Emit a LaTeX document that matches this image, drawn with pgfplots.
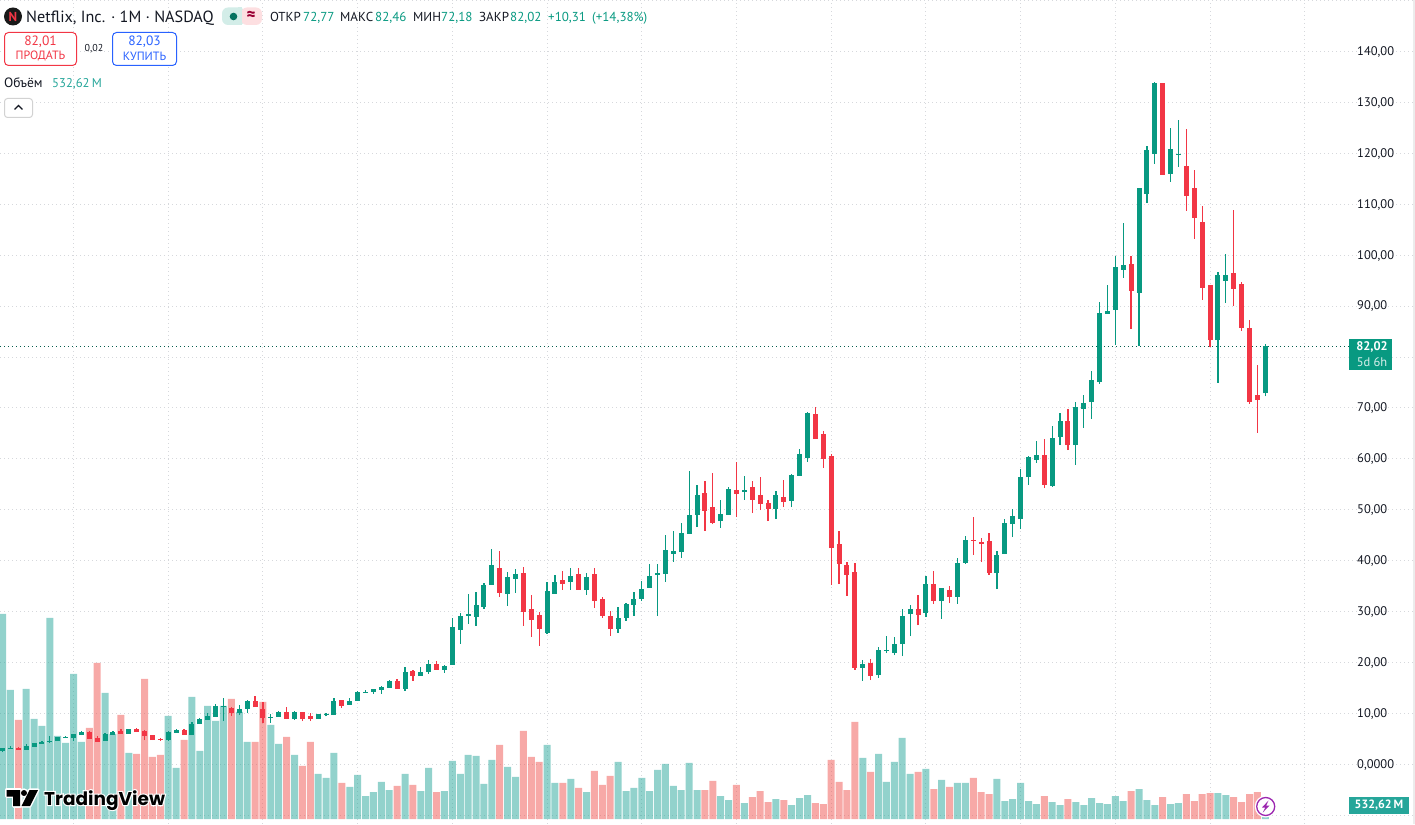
\documentclass[border=0pt]{standalone}
\usepackage{fontspec}
\usepackage{pgfplots}
\usepackage{pgfplotstable}
\pgfplotsset{compat=1.18}
\setmainfont{PT Sans}
\newfontfamily\logofont{Poppins}
\newfontfamily\logohalo{Poppins}[BoldFeatures={FakeBold=12}]
\newcommand\fs[1]{\fontsize{#1}{#1}\selectfont}

\definecolor{upc}{HTML}{089981}
\definecolor{downc}{HTML}{F23645}
\definecolor{volc}{HTML}{26A69A}
\definecolor{vold}{HTML}{EF5350}
\definecolor{txt}{HTML}{131722}
\definecolor{gridc}{HTML}{D6D8DC}
\definecolor{buyc}{HTML}{2962FF}
\definecolor{purp}{HTML}{9C27B0}

% month  open high low close volume(M)
\pgfplotstableread{
i o h l c v
0 2.62 3.14 2.35 3.14 5125
1 3.01 3.53 2.94 3.21 3225
3 2.75 3.93 2.75 3.53 3250
4 3.34 4.12 3.34 4.12 2500
5 3.93 4.52 3.93 4.32 2325
6 4.32 5.50 4.12 4.52 5025
7 4.52 5.30 4.52 5.30 2075
8 5.10 5.50 5.10 5.30 1900
9 5.10 5.89 4.52 5.89 3625
10 5.69 6.48 5.69 6.28 1925
13 4.52 6.09 4.52 5.89 3150
14 5.69 6.48 5.69 6.28 2125
16 5.89 6.87 5.89 6.87 1650
21 4.71 6.48 4.52 6.28 2575
22 6.09 6.87 6.09 6.67 1275
24 5.69 8.25 5.69 7.85 3050
25 7.85 9.03 7.85 8.83 1700
26 8.64 10.01 8.64 9.42 2825
27 9.23 11.78 9.23 11.39 2450
28 11.19 12.96 8.44 11.39 2825
30 10.01 11.58 9.62 10.80 2675
31 10.80 12.57 10.01 12.37 1925
34 9.10 9.82 8.05 9.29 2350
35 9.23 10.41 9.23 10.21 1875
37 8.83 10.41 8.64 10.21 1600
40 8.83 9.82 8.83 9.82 1125
41 9.62 10.01 9.36 9.82 1025
42 9.62 12.96 9.62 12.37 1650
44 11.59 12.96 11.59 12.37 800
45 12.37 14.34 12.37 14.14 1100
46 13.94 14.53 13.94 14.14 575
47 14.14 14.73 13.75 14.73 675
48 14.53 15.32 13.75 15.12 925
49 14.93 16.50 14.93 16.30 725
51 14.73 19.05 14.34 18.07 1125
53 17.28 19.05 17.28 18.07 700
54 18.07 20.42 17.68 19.64 1275
56 18.46 19.44 17.87 19.25 700
57 19.44 28.67 19.44 26.90 1450
58 26.32 29.65 23.57 29.06 1125
59 29.06 33.38 27.49 29.46 1600
60 28.87 33.78 27.10 31.22 1575
61 30.83 35.54 30.44 35.15 875
62 35.15 42.22 35.15 39.08 1475
64 33.38 37.70 31.03 36.72 1300
65 36.33 38.29 33.58 37.31 1050
69 25.73 35.74 25.53 33.97 1850
70 33.38 37.11 33.38 35.74 900
72 35.74 38.49 34.17 36.92 1000
74 34.17 37.51 33.19 36.72 675
78 26.51 30.83 25.73 28.67 1425
79 28.67 31.62 28.08 31.42 700
80 31.22 33.78 29.06 32.40 775
81 32.40 35.94 32.01 34.37 1025
82 34.56 39.27 34.56 36.92 700
83 37.11 39.27 29.06 37.51 1225
84 37.31 44.97 35.74 42.02 1375
85 41.24 45.75 39.67 41.83 825
86 41.63 47.32 40.45 45.36 725
87 45.16 57.53 45.16 48.89 1400
88 48.89 54.78 46.53 52.82 725
91 47.71 51.84 46.34 49.09 575
92 48.89 54.39 48.89 53.99 475
94 53.41 56.55 51.84 53.80 400
98 50.07 53.60 48.10 52.82 500
100 51.64 56.94 50.46 56.74 350
101 56.55 61.85 56.55 60.87 525
102 60.08 69.10 59.30 68.92 600
109 18.85 20.42 16.30 19.64 1525
111 17.47 22.97 16.89 22.38 1625
112 22.19 25.13 21.79 22.38 925
113 21.79 24.94 21.40 23.56 1425
114 23.56 30.43 21.20 29.06 2025
115 29.45 31.22 25.13 30.43 1125
117 29.65 36.91 28.86 35.34 1250
119 32.00 34.56 28.47 34.56 975
121 32.79 40.45 31.42 39.47 900
122 39.47 44.77 39.27 43.98 900
126 37.50 41.82 34.36 41.04 1000
127 41.23 48.10 41.23 47.32 450
128 47.12 50.07 44.57 48.69 500
129 48.10 57.92 46.14 56.35 900
130 56.35 60.47 54.78 60.28 450
131 59.69 63.42 59.10 60.67 375
133 54.58 66.36 54.39 64.01 425
134 64.20 68.92 62.63 67.35 350
136 62.63 71.08 58.71 70.10 425
137 69.71 72.46 65.98 70.88 350
138 71.08 77.17 67.74 75.40 525
139 75.00 90.72 74.62 88.56 400
140 88.36 94.05 88.36 88.95 375
141 89.15 99.75 82.27 97.59 575
142 97.00 106.23 95.43 97.98 450
144 92.48 113.10 82.08 113.10 750
145 111.92 121.35 110.16 120.56 475
146 119.78 133.90 117.81 133.72 350
148 115.85 124.88 114.28 120.76 375
149 119.58 126.45 117.22 119.78 400
154 83.25 96.61 74.81 96.02 650
155 94.84 100.14 90.52 96.02 600
160 72.77 82.46 72.18 82.02 532.62
}\upT

\pgfplotstableread{
i o h l c v
2 3.21 3.40 2.75 2.75 2475
11 6.28 6.48 4.91 4.91 2275
12 5.10 5.50 4.32 4.32 3900
15 6.48 6.87 5.89 5.89 2600
17 6.87 7.07 6.28 6.28 1625
18 6.48 6.67 4.71 5.50 3500
19 5.69 5.69 4.71 4.71 1550
20 4.91 5.10 4.52 4.78 1600
23 6.67 6.87 5.69 5.69 1975
29 10.99 11.19 9.42 10.01 3000
32 12.37 13.35 11.19 11.19 1925
33 10.80 12.17 8.05 9.03 2925
36 10.21 11.19 8.83 8.83 2050
38 10.21 10.21 8.44 8.83 1325
39 9.42 10.01 8.44 8.83 1925
43 12.57 12.57 10.99 11.39 900
50 16.30 16.69 14.73 14.73 825
52 18.27 18.46 16.30 17.28 850
55 19.64 20.23 18.46 18.46 675
63 38.49 41.83 32.79 33.58 1850
66 37.51 38.69 27.10 29.85 2200
67 30.44 33.19 24.94 28.28 1550
68 29.26 29.85 23.17 26.51 1425
71 36.13 37.90 34.17 35.35 900
73 37.31 38.49 34.17 34.17 775
75 37.31 38.49 30.63 32.01 1200
76 32.40 32.79 28.67 29.06 850
77 29.06 30.05 25.14 26.51 1075
89 53.21 55.57 45.75 49.68 725
90 50.46 57.14 47.12 47.32 950
93 53.80 59.30 48.50 53.01 850
95 54.39 55.57 49.28 51.84 550
96 52.82 56.35 49.87 51.05 700
97 51.25 51.84 47.71 50.07 425
99 52.42 55.76 50.46 51.44 475
103 68.72 70.10 63.81 63.81 400
104 64.79 65.38 58.12 59.89 375
105 60.47 60.87 35.15 42.41 1475
106 43.20 45.75 35.34 39.27 925
107 39.07 39.66 32.99 37.11 725
108 37.70 39.47 18.46 18.85 2425
110 19.83 20.62 16.49 17.28 1175
116 30.43 33.18 27.29 29.26 1175
118 35.34 37.89 31.42 32.00 750
120 34.16 34.95 31.61 32.79 800
123 43.98 48.50 41.04 43.79 1025
124 43.59 44.37 39.66 43.20 675
125 43.79 45.36 37.11 37.50 625
132 60.67 63.81 54.19 54.78 575
135 67.35 69.70 61.65 62.63 500
143 98.18 99.75 85.41 92.88 700
147 133.72 133.72 115.65 115.65 550
150 117.42 124.69 108.59 111.53 625
151 113.10 116.63 103.09 107.21 450
152 106.42 109.57 91.11 93.47 625
153 94.05 94.05 81.88 83.25 650
156 96.41 108.78 89.93 93.27 550
157 94.25 94.64 85.02 85.61 425
158 85.61 87.18 70.69 71.08 625
159 72.46 78.35 65.00 71.47 675
}\downT

\pgfplotsset{
  tvbase/.style={
    width=1415pt, height=824pt, scale only axis,
    at={(0,0)}, anchor=south west,
    xmin=-0.3168, xmax=178.97
  },
  pricey/.style={ymin=-11.781, ymax=150.01},
  voly/.style={ymin=-125, ymax=20475},
  volbar/.style={ybar, bar width=7pt, bar shift=0pt, draw=none, fill=#1, fill opacity=0.5},
  wick/.style={draw=none, mark=none, forget plot,
    error bars/.cd, y dir=plus, y explicit, error mark=none,
    error bar style={line width=1.25pt, draw=#1, solid}},
  body/.style={draw=none, mark=none, forget plot,
    error bars/.cd, y dir=plus, y explicit, error mark=none,
    error bar style={line width=5pt, draw=#1, solid}}
}

\begin{document}
\begin{tikzpicture}
\useasboundingbox (0,0) rectangle (1415pt,824pt);

% grid, price scale and last price line (80,00 sits under the price flag)
\begin{axis}[tvbase, ymin=-11.683, ymax=150.11,
  axis line style={draw=none},
  major tick length=0pt,
  xtick={9,21,33,45,57,69,81,93,105,117,129,141,153,165},
  xticklabels={},
  ytick={-10,0,10,20,30,40,50,60,70,80,90,100,110,120,130,140,150},
  yticklabels={,{0,0000},{10,00},{20,00},{30,00},{40,00},{50,00},{60,00},{70,00},,{90,00},{100,00},{110,00},{120,00},{130,00},{140,00},},
  yticklabel pos=right,
  yticklabel style={anchor=west, xshift=-58pt, yshift=-0.3pt, inner sep=0pt, font=\fs{12.5}, text=txt},
  grid=major,
  grid style={color=gridc, line width=1pt, dash pattern=on 1pt off 3pt},
]
\addplot[color=upc!60!black, line width=1pt, dash pattern=on 1pt off 3pt, forget plot] coordinates {(-0.3168,82.02) (170.6,82.02)};
\end{axis}

% volume
\begin{axis}[tvbase, voly, hide axis]
\addplot[volbar=volc, forget plot] table[x=i, y=v] {\upT};
\addplot[volbar=vold, forget plot] table[x=i, y=v] {\downT};
\end{axis}

% candles
\begin{axis}[tvbase, pricey, hide axis]
\addplot[wick=upc] table[x=i, y=l, y error plus expr=\thisrow{h}-\thisrow{l}] {\upT};
\addplot[wick=downc] table[x=i, y=l, y error plus expr=\thisrow{h}-\thisrow{l}] {\downT};
\addplot[body=upc] table[x=i, y=o, y error plus expr=\thisrow{c}-\thisrow{o}] {\upT};
\addplot[body=downc] table[x=i, y=c, y error plus expr=\thisrow{o}-\thisrow{c}] {\downT};
\end{axis}

% interface parts, coordinates are pixels of the picture
\begin{scope}[x=1pt, y=-1pt, shift={(0,824pt)}]
  \fill[gray!15] (1413,0) rectangle (1415,824);

  % header
  \fill[black!90] (13,16.5) circle (9);
  \node[anchor=center, inner sep=0pt, text=downc] at (13,16.5) {\fs{13}\bfseries N};
  \node[anchor=base west, inner sep=0pt, text=txt] at (26,22.5) {\fs{16.2}Netflix, Inc. · 1M · NASDAQ};
  \fill[upc!18, rounded corners=6pt] (222,7.5) rectangle (245,25);
  \fill[downc!16, rounded corners=6pt] (241,7.5) rectangle (262,25);
  \fill[upc!18] (238,7.5) rectangle (242,25);
  \fill[upc!75!black] (233.5,16.5) circle (3.8);
  \node[anchor=center, inner sep=0pt, text=purple!80!black] at (251,15.5) {\fs{17}\bfseries ≈};
  \node[anchor=base west, inner sep=0pt, text=txt] at (270,21.5) {\fs{13}ОТКР};
  \node[anchor=base west, inner sep=0pt, text=upc] at (303,21.5) {\fs{13}72,77};
  \node[anchor=base west, inner sep=0pt, text=txt] at (340,21.5) {\fs{13}МАКС};
  \node[anchor=base west, inner sep=0pt, text=upc] at (375,21.5) {\fs{13}82,46};
  \node[anchor=base west, inner sep=0pt, text=txt] at (413,21.5) {\fs{13}МИН};
  \node[anchor=base west, inner sep=0pt, text=upc] at (441,21.5) {\fs{13}72,18};
  \node[anchor=base west, inner sep=0pt, text=txt] at (479,21.5) {\fs{13}ЗАКР};
  \node[anchor=base west, inner sep=0pt, text=upc] at (510,21.5) {\fs{13}82,02};
  \node[anchor=base west, inner sep=0pt, text=upc] at (548,21.5) {\fs{13}+10,31};
  \node[anchor=base west, inner sep=0pt, text=upc] at (592,21.5) {\fs{13}(+14,38\%)};

  % sell and buy
  \draw[downc, line width=1pt, fill=white, rounded corners=4pt] (4.5,32.5) rectangle (76.5,65.5);
  \node[anchor=center, inner sep=0pt, text=downc] at (40.5,42) {\fs{13.5}82,01};
  \node[anchor=center, inner sep=0pt, text=downc] at (40.5,56) {\fs{12}ПРОДАТЬ};
  \node[anchor=center, inner sep=0pt, text=txt] at (94,48.5) {\fs{10}0,02};
  \draw[buyc, line width=1pt, fill=white, rounded corners=4pt] (112.5,32.5) rectangle (176.5,65.5);
  \node[anchor=center, inner sep=0pt, text=buyc] at (144.5,42) {\fs{13.5}82,03};
  \node[anchor=center, inner sep=0pt, text=buyc] at (144.5,56) {\fs{12}КУПИТЬ};

  % volume legend and collapse button
  \node[anchor=base west, inner sep=0pt, text=txt] at (4,88) {\fs{13.5}Объём};
  \node[anchor=base west, inner sep=0pt, text=volc] at (52,88) {\fs{12.7}532,62\,M};
  \draw[gray!35, line width=1pt, fill=white, rounded corners=3pt] (4.5,98.5) rectangle (32.5,117.5);
  \draw[txt, line width=1.2pt] (14.5,109.5) -- (18.5,105.5) -- (22.5,109.5);

  % price and volume flags
  \fill[upc] (1349,339) rectangle (1392,370);
  \node[anchor=center, inner sep=0pt, text=white] at (1372,346.5) {\fs{12.5}\bfseries 82,02};
  \node[anchor=center, inner sep=0pt, text=white!85!upc] at (1372,362) {\fs{12.5}5d 6h};
  \fill[volc] (1349,797) rectangle (1409,814);
  \node[anchor=center, inner sep=0pt, text=white] at (1379,805.5) {\fs{12}\bfseries 532,62\,M};

  % logo
  \node[anchor=base west, inner sep=0pt, text=white] at (44,805) {\logohalo\fs{18.5}\bfseries TradingView};
  \draw[white, line width=3pt, line join=round, fill=white]
    (6.5,790) -- (20,790) -- (20,806) -- (13,806) -- (13,796.5) -- (6.5,796.5) -- cycle;
  \draw[white, line width=3pt, fill=white] (24,793) circle (3);
  \draw[white, line width=3pt, line join=round, fill=white] (29.5,790) -- (38,790) -- (30,806) -- (21.5,806) -- cycle;
  \fill[black] (6.5,790) -- (20,790) -- (20,806) -- (13,806) -- (13,796.5) -- (6.5,796.5) -- cycle;
  \fill[black] (24,793) circle (3);
  \fill[black] (29.5,790) -- (38,790) -- (30,806) -- (21.5,806) -- cycle;
  \node[anchor=base west, inner sep=0pt, text=black] at (44,805) {\logofont\fs{18.5}\bfseries TradingView};

  % lightning mark
  \fill[white] (1265.7,806.5) circle (11);
  \draw[purp, line width=1.3pt] (1265.7,806.5) circle (9);
  \fill[purp] (1268.5,800.5) -- (1262,807.5) -- (1265.3,807.5) -- (1262.8,812.5) -- (1269.5,805.5) -- (1266.2,805.5) -- cycle;
\end{scope}
\end{tikzpicture}
\end{document}
